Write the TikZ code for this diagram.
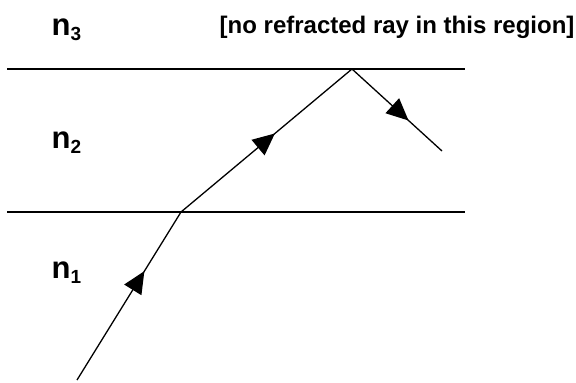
\documentclass[tikz,border=0pt]{standalone}
\usepackage{fontspec}
\setmainfont{Liberation Sans}
\usetikzlibrary{positioning, arrows.meta, decorations.markings}

% 屈折率ラベル用（n と小さい添字）
\newcommand{\idxn}[1]{n\raisebox{-5pt}{\fontsize{19}{19}\selectfont #1}}

\begin{document}
\begin{tikzpicture}[
    x=1pt, y=-1pt,          % 画素に合わせた座標（y は下向き）
    line width=1.4pt,       % 全体の線幅
    >={Triangle[length=22pt, width=20pt]},  % 塗りつぶし三角の矢じり
    medium/.style={font=\fontsize{31}{34}\selectfont\bfseries, inner sep=0pt, anchor=base west},
    note/.style={font=\fontsize{24}{27}\selectfont\bfseries, inner sep=0pt, anchor=base west},
    ray/.style={decoration={markings,
        mark=at position 128pt with {\arrow{>}},
        mark=at position 320pt with {\arrow{>}},
        mark=at position 497pt with {\arrow{>}}},
        postaction={decorate}}
]
    \useasboundingbox (0,0) rectangle (576,383);

    % --- 1. 境界面（2本の水平線） ---
    \coordinate (topL) at (7,69);
    \coordinate (topR) at (465,69);
    \coordinate (botL) at (7,212);
    \coordinate (botR) at (465,212);
    \draw (topL) -- (topR);
    \draw (botL) -- (botR);

    % --- 2. 各領域のラベル ---
    \node [medium] (n3) at (51,35) {\idxn{3}};
    \node [medium] (n2) at (51,148) {\idxn{2}};
    \node [medium] (n1) at (51,278) {\idxn{1}};
    \node [note] (note) at (219,33) {[no refracted ray in this region]};

    % --- 3. 光線（屈折 → 全反射） ---
    \coordinate (src) at (77,380);
    \coordinate (hit1) at (181,212);
    \coordinate (hit2) at (352,69);
    \coordinate (out) at (442,151);
    \draw [ray, line width=1.3pt] (src) -- (hit1) -- (hit2) -- (out);

\end{tikzpicture}
\end{document}
